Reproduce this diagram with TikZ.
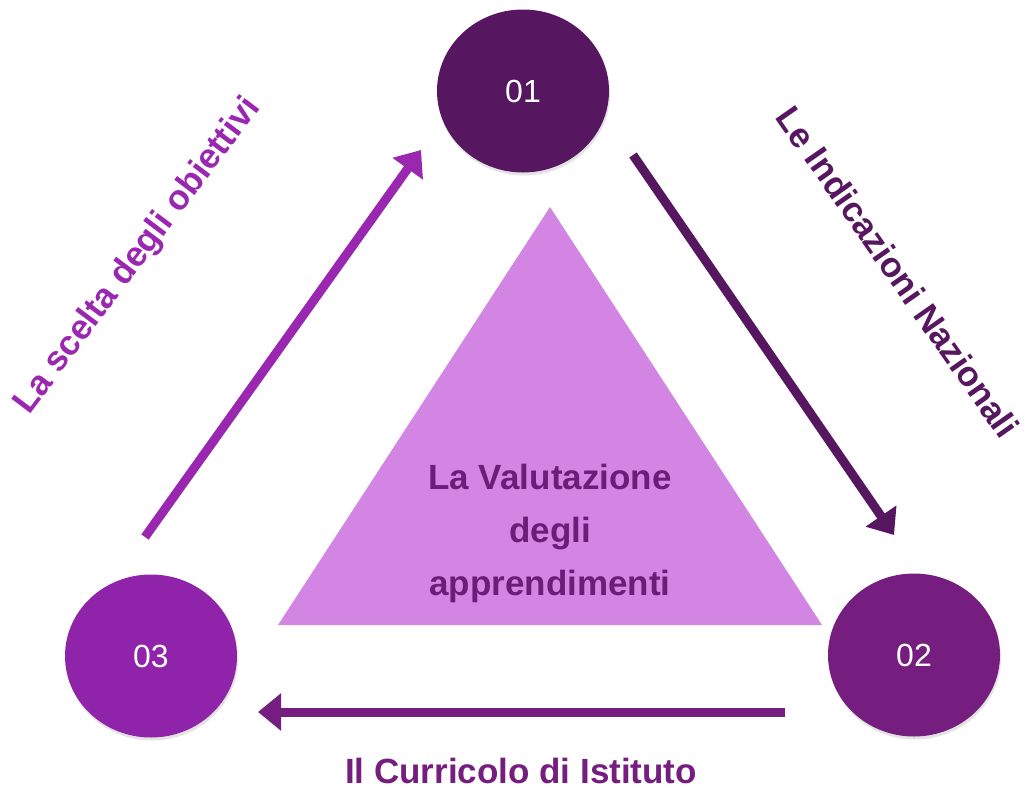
\documentclass[tikz,border=0pt]{standalone}
\usepackage{fontspec}
\setmainfont{Liberation Sans}
\usetikzlibrary{arrows.meta,shadows,shapes.geometric}
\definecolor{cA}{HTML}{561660}
\definecolor{cB}{HTML}{761E80}
\definecolor{cC}{HTML}{8F24AA}
\definecolor{tri}{HTML}{D385E4}
\definecolor{txt}{HTML}{6C1D77}
\definecolor{arrL}{HTML}{9A27B0}
\begin{document}
\begin{tikzpicture}[x=1pt,y=-1pt,
  bubble/.style={ellipse, minimum width=172pt, minimum height=163pt, inner sep=0pt,
    text=white, font=\fontsize{32}{38}\selectfont,
    drop shadow={opacity=0.22, shadow xshift=1pt, shadow yshift=-3pt}},
  conn/.style={line width=9pt, -{Triangle[length=23pt,width=36pt]}},
  lbl/.style={font=\bfseries\fontsize{35}{42}\selectfont}]
\useasboundingbox (0,0) rectangle (1025,790);
% central triangle
\fill[tri] (550,207) -- (822,625) -- (278,625) -- cycle;
\node[text=txt, align=center, font=\bfseries\fontsize{35}{53}\selectfont] (center) at (550,533)
  {La Valutazione\\degli\\apprendimenti};
% circles
\node[bubble, fill=cA] (n1) at (523,91) {01};
\node[bubble, fill=cB] (n2) at (914,655) {02};
\node[bubble, fill=cC] (n3) at (151,656) {03};
% arrow endpoints
\coordinate (s1) at (633,155);
\coordinate (e1) at (894,535);
\coordinate (s2) at (785,712);
\coordinate (e2) at (258,712);
\coordinate (s3) at (145,537);
\coordinate (e3) at (421,150);
\draw[conn, color=cA] (s1) -- (e1);
\draw[conn, color=cB] (s2) -- (e2);
\draw[conn, color=arrL] (s3) -- (e3);
% labels
\node[lbl, text=cA, rotate=-55] (l1) at (898,272) {Le Indicazioni Nazionali};
\node[lbl, text=cB] (l2) at (521,771) {Il Curricolo di Istituto};
\node[lbl, text=arrL, rotate=53] (l3) at (138,256) {La scelta degli obiettivi};
\end{tikzpicture}
\end{document}
